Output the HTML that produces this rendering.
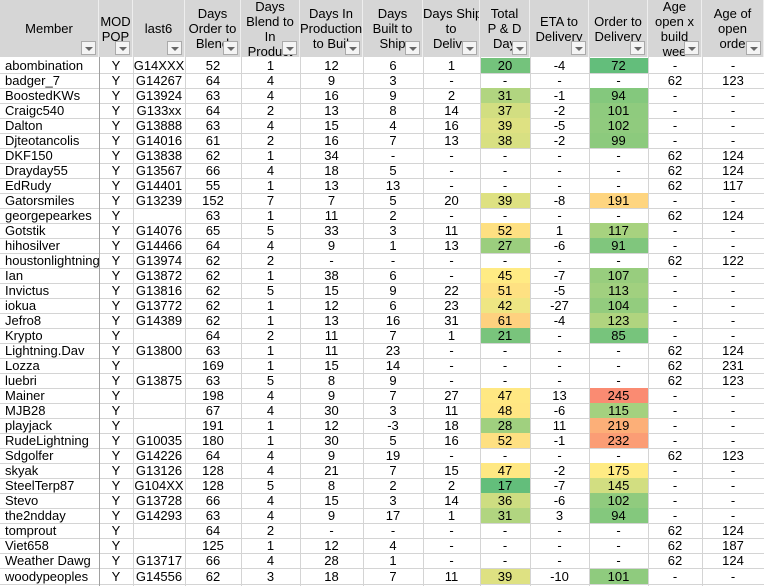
<!DOCTYPE html>
<html><head><meta charset="utf-8"><style>
body{margin:0;width:764px;height:586px;overflow:hidden;background:#fff;font-family:"Liberation Sans",sans-serif;font-size:13px;color:#000}
#w{position:relative;width:764px;height:586px}
.c{position:absolute;height:15px;line-height:15px;white-space:nowrap;overflow:hidden;text-align:center;box-sizing:border-box}
.h{position:absolute;top:0;height:57px;background:#d6d6d6;overflow:hidden;text-align:center;box-sizing:border-box;border-right:1px solid #eee}
.h .t{position:absolute;left:0;right:0;line-height:15px;white-space:nowrap}
.dd{position:absolute;width:15px;height:14px;bottom:2px;right:2px;background:#f4f4f4;border:1px solid #aaa;box-sizing:border-box}
.dd:after{content:"";position:absolute;left:3px;top:5px;border-left:4px solid transparent;border-right:4px solid transparent;border-top:4px solid #666}
.vl{position:absolute;top:57px;width:1px;height:529px;background:#d4d4d4}
.hl{position:absolute;left:0;width:764px;height:1px;background:#d4d4d4}
</style></head><body><div id="w"></div>
<script>
(function(){
var X=[0,99,133,185,241,300,363,423,480,530,589,648,702,764];
var H=[["Member"],["MOD","POP"],["last6"],["Days","Order to","Blend"],["Days","Blend to","In","Product"],["Days In","Production","to Buil"],["Days","Built to","Ship"],["Days Ship","to","Delive"],["Total","P & D","Day"],["ETA to","Delivery"],["Order to","Delivery"],["Age","open x","build","wee"],["Age of","open","orde"]];
var D=`abombination|Y|G14XXX|52|1|12|6|1|20|-4|72|-|-
badger_7|Y|G14267|64|4|9|3|-|-|-|-|62|123
BoostedKWs|Y|G13924|63|4|16|9|2|31|-1|94|-|-
Craigc540|Y|G133xx|64|2|13|8|14|37|-2|101|-|-
Dalton|Y|G13888|63|4|15|4|16|39|-5|102|-|-
Djteotancolis|Y|G14016|61|2|16|7|13|38|-2|99|-|-
DKF150|Y|G13838|62|1|34|-|-|-|-|-|62|124
Drayday55|Y|G13567|66|4|18|5|-|-|-|-|62|124
EdRudy|Y|G14401|55|1|13|13|-|-|-|-|62|117
Gatorsmiles|Y|G13239|152|7|7|5|20|39|-8|191|-|-
georgepearkes|Y||63|1|11|2|-|-|-|-|62|124
Gotstik|Y|G14076|65|5|33|3|11|52|1|117|-|-
hihosilver|Y|G14466|64|4|9|1|13|27|-6|91|-|-
houstonlightning|Y|G13974|62|2|-|-|-|-|-|-|62|122
Ian|Y|G13872|62|1|38|6|-|45|-7|107|-|-
Invictus|Y|G13816|62|5|15|9|22|51|-5|113|-|-
iokua|Y|G13772|62|1|12|6|23|42|-27|104|-|-
Jefro8|Y|G14389|62|1|13|16|31|61|-4|123|-|-
Krypto|Y||64|2|11|7|1|21|-|85|-|-
Lightning.Dav|Y|G13800|63|1|11|23|-|-|-|-|62|124
Lozza|Y||169|1|15|14|-|-|-|-|62|231
luebri|Y|G13875|63|5|8|9|-|-|-|-|62|123
Mainer|Y||198|4|9|7|27|47|13|245|-|-
MJB28|Y||67|4|30|3|11|48|-6|115|-|-
playjack|Y||191|1|12|-3|18|28|11|219|-|-
RudeLightning|Y|G10035|180|1|30|5|16|52|-1|232|-|-
Sdgolfer|Y|G14226|64|4|9|19|-|-|-|-|62|123
skyak|Y|G13126|128|4|21|7|15|47|-2|175|-|-
SteelTerp87|Y|G104XX|128|5|8|2|2|17|-7|145|-|-
Stevo|Y|G13728|66|4|15|3|14|36|-6|102|-|-
the2ndday|Y|G14293|63|4|9|17|1|31|3|94|-|-
tomprout|Y||64|2|-|-|-|-|-|-|62|124
Viet658|Y||125|1|12|4|-|-|-|-|62|187
Weather Dawg|Y|G13717|66|4|28|1|-|-|-|-|62|124
woodypeoples|Y|G14556|62|3|18|7|11|39|-10|101|-|-`.split("\n").map(function(r){return r.split("|")});
var G=[99,190,123],Y=[255,235,132],R=[248,105,107];
function mix(a,b,f){return "rgb("+a.map(function(v,i){return Math.round(v+(b[i]-v)*f)}).join(",")+")"}
function col(v,mn,md,mx){if(v<=md)return mix(G,Y,(v-mn)/(md-mn));return mix(Y,R,Math.min(1,(v-md)/(mx-md)))}
var h="";
for(var i=0;i<13;i++){var L=H[i],n=L.length,t0=(57-n*15)/2;h+='<div class="h" style="left:'+X[i]+'px;width:'+(X[i+1]-X[i])+'px">';
for(var k=0;k<n;k++)h+='<div class="t" style="top:'+(t0+k*15)+'px">'+L[k]+'</div>';
h+='<div class="dd"></div></div>';}
for(var r=0;r<D.length;r++){var y=57.5+r*15.03;
for(var i=0;i<13;i++){var v=D[r][i],bg="";
if(i==8&&v!="-")bg=col(+v,17,45,125);if(i==10&&v!="-")bg=col(+v,72,175,270);
h+='<div class="c" style="top:'+y+'px;left:'+X[i]+'px;width:'+(X[i+1]-X[i])+'px;'+(i==0?'text-align:left;padding-left:5px;':'')+(bg?'background:'+bg+';':'')+'">'+v+'</div>';}
h+='<div class="hl" style="top:'+Math.round(y+15)+'px"></div>';}
for(var i=1;i<13;i++)h+='<div class="vl" style="left:'+X[i]+'px;'+(i==1?'background:#a0a0a0':'')+'"></div>';
document.getElementById("w").innerHTML=h;
})();
</script></body></html>
